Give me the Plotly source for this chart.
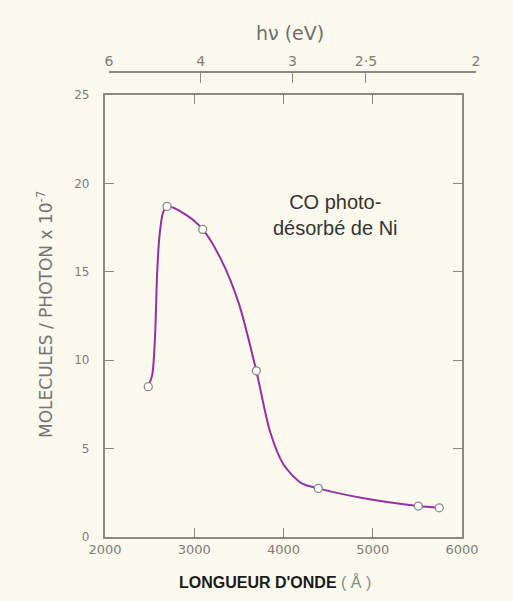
import plotly.graph_objects as go

# Measured points (wavelength in Å, molecules/photon x 1e-7)
point_wavelength = [2485, 2695, 3095, 3695, 4390, 5510, 5745]
point_yield = [8.5, 18.7, 17.4, 9.4, 2.75, 1.75, 1.65]

# Drawn curve
curve_wavelength = [2485, 2530, 2560, 2585, 2610, 2650, 2695, 2900, 3095, 3300, 3500,
                    3695, 3850, 4000, 4200, 4390, 4900, 5510, 5745]
curve_yield = [8.5, 9.2, 11.3, 15.0, 17.0, 18.35, 18.7, 18.25, 17.4, 15.7, 13.2,
               9.4, 5.95, 4.1, 3.05, 2.75, 2.19, 1.75, 1.65]

x_ticks = [2000, 3000, 4000, 5000, 6000]
y_ticks = [0, 5, 10, 15, 20, 25]
energy_ticks = [6, 4, 3, 2.5, 2]
energy_labels = ["6", "4", "3", "2·5", "2"]
HC = 12398.4  # eV·Å

BG = "#fcfaee"
AXC = "#8a8a82"
TXT = "#7c7c76"
FONT = "DejaVu Sans"
NB = "\u00a0"

fig = go.Figure()
fig.add_trace(go.Scatter(x=curve_wavelength, y=curve_yield, mode="lines",
                         line=dict(color="#9530a6", width=2, shape="spline", smoothing=0.8),
                         hoverinfo="skip", showlegend=False))
fig.add_trace(go.Scatter(x=point_wavelength, y=point_yield, mode="markers",
                         marker=dict(size=8, color="white", line=dict(color="#8a8a8a", width=1.3)),
                         showlegend=False))
# carrier trace (invisible) for the top photon-energy axis
fig.add_trace(go.Scatter(x=[HC / energy_ticks[0]], y=[0], xaxis="x2", yaxis="y2",
                         mode="markers", marker=dict(size=1, opacity=0),
                         hoverinfo="skip", showlegend=False))

W, H = 513, 601
# page coordinates of plot area: left 105, right 480, top 73, bottom 537
PL, PR, PT, PB = 105, 480, 73, 537
L, T = PL, PT
R, B = W - PR, H - PB
pw, ph = PR - PL, PB - PT

fig.update_layout(
    width=W, height=H,
    margin=dict(l=L, r=R, t=T, b=B),
    paper_bgcolor=BG, plot_bgcolor=BG,
    font=dict(family=FONT, color=TXT),
    xaxis=dict(domain=[0, (462 - PL) / pw], range=[2000, 6000], tickvals=x_ticks,
               ticks="inside", ticklen=9, tickcolor=AXC, tickwidth=1.2,
               showline=True, linecolor=AXC, linewidth=1.5, mirror="ticks",
               showgrid=False, zeroline=False, tickfont=dict(size=13, color=TXT)),
    yaxis=dict(domain=[0, (PB - 95) / ph], range=[0, 25], tickvals=y_ticks,
               ticktext=[f"{v}{NB * 3}" for v in y_ticks],
               ticks="inside", ticklen=9, tickcolor=AXC, tickwidth=1.2,
               showline=True, linecolor=AXC, linewidth=1.5, mirror="ticks",
               showgrid=False, zeroline=False, tickfont=dict(size=12, color=TXT)),
    xaxis2=dict(anchor="y2", side="top",
                domain=[(109 - PL) / pw, (476 - PL) / pw], range=[HC / 6, HC / 2],
                tickvals=[HC / e for e in energy_ticks], ticktext=energy_labels,
                ticks="inside", ticklen=10, tickcolor=AXC, tickwidth=1.2,
                showline=True, linecolor=AXC, linewidth=1.5,
                showgrid=False, zeroline=False, tickfont=dict(size=14, color=TXT)),
    yaxis2=dict(anchor="x2", domain=[0.985, 1], range=[0, 1], visible=False,
                showgrid=False, zeroline=False),
    showlegend=False,
)

fig.add_annotation(text="hν (eV)", xref="paper", yref="paper",
                   x=(290 - PL) / pw, y=1 + (PT - 33) / ph, xanchor="center", yanchor="middle",
                   showarrow=False, font=dict(size=19, color="#6e6e68", family=FONT))
fig.add_annotation(text="MOLECULES / PHOTON x 10<sup>-7</sup>", xref="paper", yref="paper",
                   x=(45 - PL) / pw, y=(PB - 315) / ph, xanchor="center", yanchor="middle",
                   showarrow=False, textangle=-90,
                   font=dict(size=17, color="#74746e", family=FONT))
fig.add_annotation(text="<b>LONGUEUR D'ONDE</b><span style='color:#8a8a82'> ( Å )</span>",
                   xref="paper", yref="paper",
                   x=(275 - PL) / pw, y=-(582 - PB) / ph, xanchor="center", yanchor="middle",
                   showarrow=False,
                   font=dict(size=16, color="#1a1a1a", family="Liberation Sans"))
fig.add_annotation(text="CO photo-<br>désorbé de Ni", xref="x", yref="y",
                   x=4588, y=18.2, showarrow=False, align="center",
                   font=dict(size=20, color="#333333", family="Liberation Sans"))

fig.write_html("out.html",
               config={"displayModeBar": False},
               post_script="document.body.style.margin='0';"
                           "document.body.style.background='" + BG + "';")
